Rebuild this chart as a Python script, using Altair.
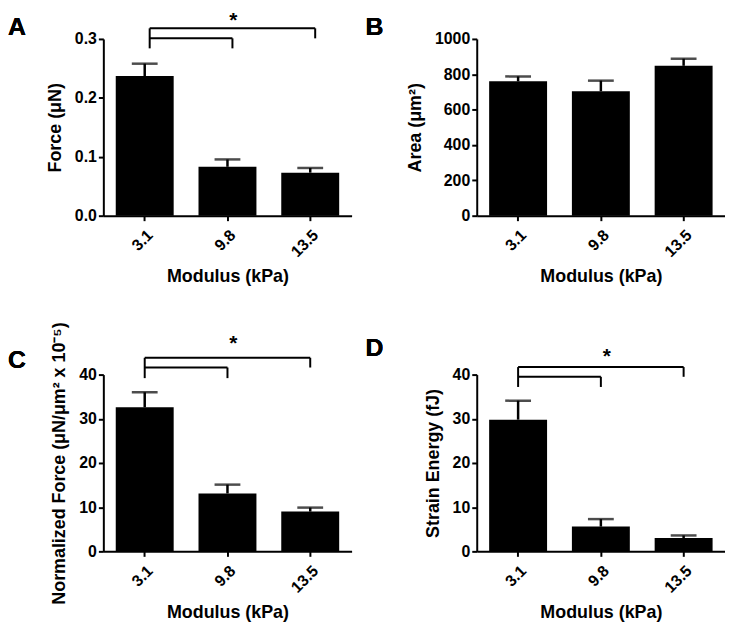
import altair as alt
import pandas as pd

moduli = ["3.1", "9.8", "13.5"]

force_mean = [0.237, 0.083, 0.073]
force_sem = [0.021, 0.0125, 0.008]
area_mean = [760, 704, 848]
area_sem = [28, 60, 40]
normforce_mean = [32.6, 13.1, 9.0]
normforce_sem = [3.4, 2.0, 0.9]
strain_mean = [29.8, 5.6, 3.0]
strain_sem = [4.3, 1.7, 0.6]

# significance brackets: outer level, inner level, drop level, star level
force_bracket = [0.318, 0.301, 0.284, 0.3303]
normforce_bracket = [43.8, 41.6, 39.2, 47.0]
strain_bracket = [41.7, 39.5, 37.2, 44.0]

FONT = "Liberation Sans"
W, H = 250, 178


def xch(field, **kw):
    return alt.X(field, scale=alt.Scale(domain=moduli, paddingInner=0.3,
                                        paddingOuter=0.15), **kw)


def panel(letter, lx, ly, mean, sem, ytitle, yticks, yfmt, bracket=None, boff=0):
    df = pd.DataFrame({"mod": moduli, "mean": mean,
                       "upper": [m + s for m, s in zip(mean, sem)]})
    ymax = yticks[-1]
    xenc = xch("mod:N", axis=alt.Axis(title="Modulus (kPa)", labelAngle=-45,
                                      labelPadding=6, titlePadding=8))
    yscale = alt.Scale(domain=[0, ymax], nice=False)
    yax = alt.Axis(title=ytitle, values=yticks, format=yfmt, titlePadding=10,
                   labelOverlap=False, tickCount=len(yticks))
    base = alt.Chart(df)
    bars = base.mark_bar(color="black").encode(
        x=xenc, y=alt.Y("mean:Q", scale=yscale, axis=yax))
    err = base.mark_rule(color="black", strokeWidth=2.5).encode(
        x=xch("mod:N"), y="mean:Q", y2="upper:Q")
    cap = base.mark_tick(color="black", size=26, thickness=2.5).encode(
        x=xch("mod:N"), y="upper:Q")
    lab = base.mark_text(align="left", baseline="top", fontSize=25,
                         fontWeight="bold", font=FONT, color="black").encode(
        x=alt.value(lx), y=alt.value(ly), text=alt.value(letter))
    layers = [bars, err, cap]
    if bracket is not None:
        o, m, d, s = bracket
        seg = pd.DataFrame({
            "xa": ["3.1", "13.5", "3.1", "3.1", "9.8"],
            "xb": ["13.5", "13.5", "3.1", "9.8", "9.8"],
            "ya": [o, o, o, m, m],
            "yb": [o, m, d, m, d],
        })
        br = alt.Chart(seg).mark_rule(color="black", strokeWidth=2,
                                      xOffset=boff, x2Offset=boff).encode(
            x=xch("xa:N"), x2="xb:N",
            y=alt.Y("ya:Q"), y2="yb:Q")
        star = alt.Chart(pd.DataFrame({"x": ["9.8"], "y": [s]})).mark_text(
            text="*", fontSize=21, fontWeight="bold", font=FONT,
            baseline="middle", dx=6, color="black").encode(
            x=xch("x:N"), y="y:Q")
        layers += [br, star]
    layers.append(lab)
    return alt.layer(*layers).properties(width=W, height=H)


A = panel("A", -96, -24, force_mean, force_sem, "Force (μN)",
          [0, 0.1, 0.2, 0.3], ".1f", force_bracket, boff=5)
B = panel("B", -112, -24, area_mean, area_sem, "Area (μm²)",
          [0, 200, 400, 600, 800, 1000], "d")
C = panel("C", -96, -27, normforce_mean, normforce_sem,
          "Normalized Force (μN/μm² x 10⁻⁵)", [0, 10, 20, 30, 40], "d",
          normforce_bracket)
D = panel("D", -112, -39, strain_mean, strain_sem, "Strain Energy (fJ)",
          [0, 10, 20, 30, 40], "d", strain_bracket)

chart = alt.concat(A, B, C, D, columns=2, bounds="flush",
                   spacing=alt.RowColnumber(row=160, column=126)).properties(
    padding={"left": 0, "top": 0, "right": 0, "bottom": 0}
).configure_axis(
    labelFont=FONT, titleFont=FONT, labelFontWeight="bold",
    titleFontWeight="bold", labelFontSize=16, titleFontSize=18,
    labelColor="black", titleColor="black", domainColor="black",
    domainWidth=2, tickColor="black", tickWidth=2, tickSize=5, grid=False
).configure_axisX(labelFontSize=16).configure_view(stroke=None)

chart.save("out.html", embed_options={"renderer": "svg", "actions": False})
